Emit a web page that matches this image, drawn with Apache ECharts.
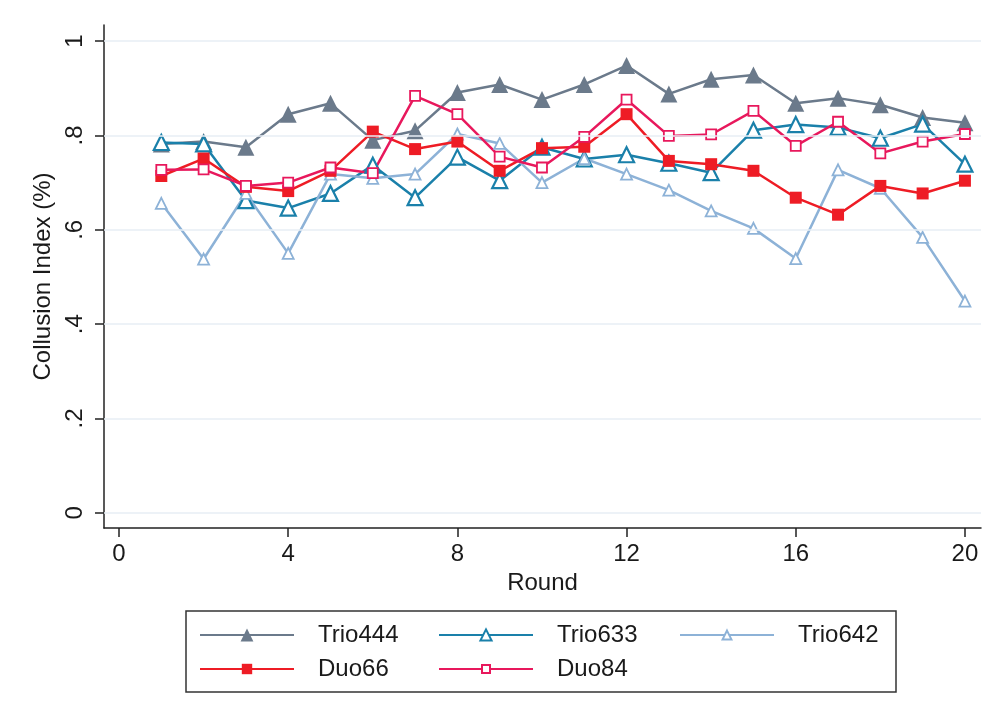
<!DOCTYPE html>
<html>
<head>
<meta charset="utf-8">
<script src="https://cdn.jsdelivr.net/npm/echarts@6/dist/echarts.min.js"></script>
<style>html,body{margin:0;padding:0;background:#fff}#c{width:998px;height:726px}</style>
</head>
<body>
<div id="c"></div>
<script>
const rounds = [1,2,3,4,5,6,7,8,9,10,11,12,13,14,15,16,17,18,19,20];
const trio444 = [0.782,0.787,0.775,0.845,0.868,0.790,0.810,0.891,0.908,0.876,0.908,0.948,0.888,0.919,0.928,0.868,0.879,0.865,0.838,0.827];
const trio633 = [0.785,0.782,0.662,0.646,0.677,0.737,0.668,0.754,0.704,0.775,0.750,0.759,0.741,0.721,0.811,0.823,0.817,0.794,0.824,0.739];
const trio642 = [0.656,0.538,0.677,0.550,0.718,0.709,0.718,0.803,0.783,0.700,0.751,0.718,0.684,0.640,0.603,0.539,0.727,0.688,0.584,0.449];
const duo66 = [0.714,0.751,0.691,0.682,0.725,0.808,0.771,0.787,0.725,0.773,0.776,0.845,0.746,0.739,0.725,0.668,0.632,0.693,0.677,0.704];
const duo84 = [0.727,0.728,0.693,0.700,0.732,0.720,0.884,0.845,0.755,0.732,0.797,0.876,0.799,0.802,0.852,0.778,0.829,0.762,0.787,0.803];
const xTicks = [0,4,8,12,16,20];
const yTicks = [0,0.2,0.4,0.6,0.8,1];
const seriesNames = ['Trio444','Trio633','Trio642','Duo66','Duo84'];

const FONT = '"Liberation Sans", Arial, sans-serif';
const FS = 24;
const cols = {Trio444:'#6b7a8b', Trio633:'#1a80aa', Trio642:'#8db2d7', Duo66:'#ee1c25', Duo84:'#e8185c'};
function pair(arr){ return rounds.map((r,i)=>[r, arr[i]]); }

const chart = echarts.init(document.getElementById('c'), null, {renderer:'canvas'});

function mkSeries(name, data, symbol, size, filled, bw){
  return {
    name, type:'line', data: pair(data), symbol, symbolSize: size,
    lineStyle:{color:cols[name], width:2.5},
    itemStyle: filled ? {color:cols[name]} : {color:'#fff', borderColor:cols[name], borderWidth:bw},
    emphasis:{disabled:true}, animation:false, z: 3
  };
}

function legendAt(name, left, top, ih){
  return {
    data:[name], left, top, padding:0, itemWidth:94, itemHeight:ih,
    itemGap:0, selectedMode:false,
    textStyle:{fontSize:FS, color:'#1a1a1a', fontFamily:FONT, padding:[0,0,0,19]}
  };
}

const option = {
  backgroundColor:'#fff',
  animation:false,
  grid:{left:104, right:17, top:25, bottom:198, containLabel:false},
  xAxis:{
    type:'value', min:-0.355, max:20.38,
    axisLine:{show:true, onZero:false, lineStyle:{color:'#222', width:1.5}},
    axisTick:{show:true, inside:false, customValues:xTicks, length:9, lineStyle:{color:'#222', width:1.5}},
    axisLabel:{customValues:xTicks, fontSize:FS, color:'#1a1a1a', fontFamily:FONT, margin:14},
    splitLine:{show:false},
    name:'Round', nameLocation:'middle', nameGap:41,
    nameTextStyle:{fontSize:FS, color:'#1a1a1a', fontFamily:FONT}
  },
  yAxis:{
    type:'value', min:-0.032, max:1.034,
    axisLine:{show:true, onZero:false, lineStyle:{color:'#222', width:1.5}},
    axisTick:{show:true, inside:false, customValues:yTicks, length:9, lineStyle:{color:'#222', width:1.5}},
    axisLabel:{customValues:yTicks, rotate:90, fontSize:FS, color:'#1a1a1a', fontFamily:FONT, margin:17,
      formatter:v=> v===0?'0':(v===1?'1':String(v).replace(/^0/,''))},
    splitLine:{show:false},
    name:'Collusion Index (%)', nameLocation:'middle', nameGap:43, nameRotate:90,
    nameTextStyle:{fontSize:FS, color:'#1a1a1a', fontFamily:FONT}
  },
  legend:[
    legendAt('Trio444',199,623,16),
    legendAt('Trio633',438,623,14),
    legendAt('Trio642',679,623,11),
    legendAt('Duo66',199,657,13),
    legendAt('Duo84',438,657,10)
  ],
  graphic:[{type:'rect', shape:{x:186, y:611, width:710, height:81}, style:{fill:'none', stroke:'#333', lineWidth:1.5}, silent:true}],
  series:[
    {type:'line', data:[], markLine:{silent:true, symbol:'none', label:{show:false},
      lineStyle:{color:'#e7eef4', width:1.5, type:'solid'}, animation:false,
      data: yTicks.map(v=>({yAxis:v}))}, z:1},
    mkSeries('Trio444', trio444, 'triangle', 17, true, 0),
    mkSeries('Trio633', trio633, 'triangle', 15, false, 2.2),
    mkSeries('Trio642', trio642, 'triangle', 11, false, 1.8),
    mkSeries('Duo66', duo66, 'rect', 12, true, 0),
    mkSeries('Duo84', duo84, 'rect', 10, false, 1.8)
  ]
};
chart.setOption(option);
</script>
</body>
</html>
